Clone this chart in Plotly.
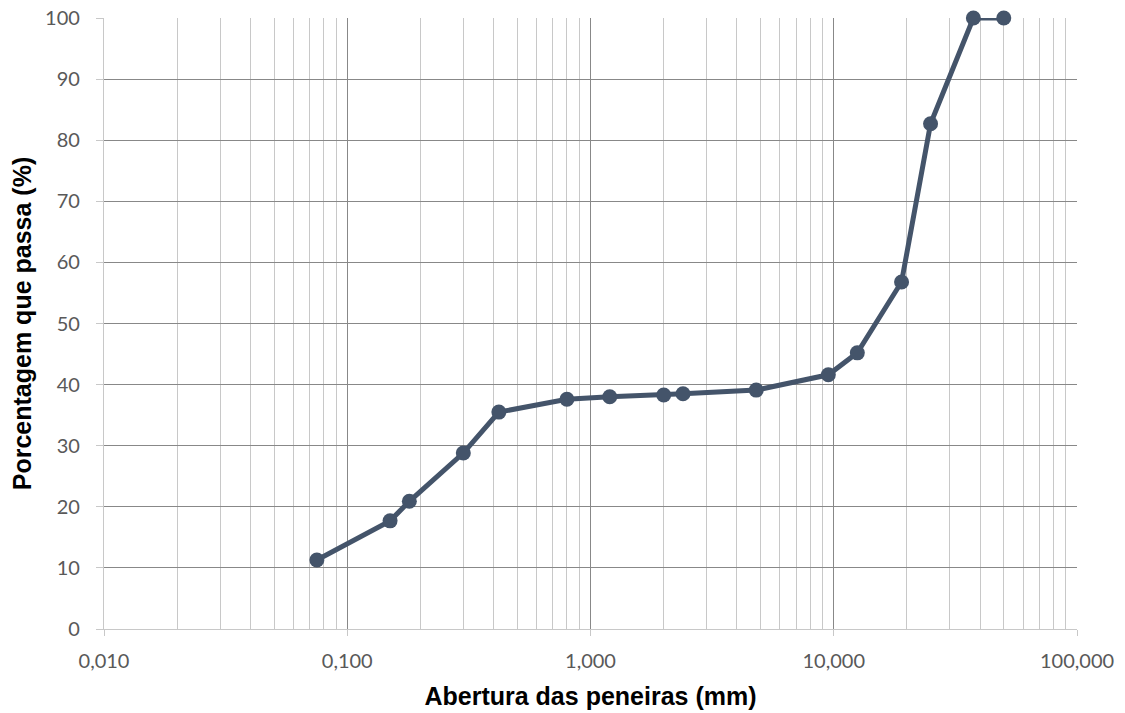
import plotly.graph_objects as go

# Sieve analysis: opening (mm) vs. cumulative percentage passing
abertura_mm = [0.075, 0.15, 0.18, 0.3, 0.42, 0.8, 1.2, 2.0, 2.4, 4.8, 9.5, 12.5, 19.0, 25.0, 37.5, 50.0]
passante_pct = [11.3, 17.7, 20.9, 28.8, 35.5, 37.6, 38.0, 38.3, 38.5, 39.1, 41.6, 45.2, 56.8, 82.7, 100.0, 100.0]

x_tickvals = [0.01, 0.1, 1, 10, 100]
x_ticktext = ["0,010", "0,100", "1,000", "10,000", "100,000"]
y_tickvals = list(range(0, 101, 10))

# Light gridlines at 2..9 within each decade of the log axis
x_minor_vals = [m * d for d in (0.01, 0.1, 1, 10) for m in range(2, 10)]

line_color = "#44546A"
major_grid = "#888888"
minor_grid = "#C8C8C8"
tick_font = dict(family="Lato, Liberation Sans, sans-serif", size=20, color="#595959")
title_font = dict(family="Liberation Sans, Arial, sans-serif", size=25, color="#000000")

fig = go.Figure(
    go.Scatter(
        x=abertura_mm,
        y=passante_pct,
        mode="lines+markers",
        line=dict(color=line_color, width=5),
        marker=dict(color=line_color, size=15),
        cliponaxis=False,
        showlegend=False,
    )
)

fig.update_xaxes(
    type="log",
    range=[-2, 2],
    tickvals=x_tickvals,
    ticktext=x_ticktext,
    tickfont=tick_font,
    ticklabelstandoff=8,
    showgrid=True,
    gridcolor=major_grid,
    gridwidth=1.3,
    ticks="outside",
    ticklen=6,
    tickcolor=minor_grid,
    showline=True,
    linecolor=minor_grid,
    linewidth=1.3,
    minor=dict(tickmode="array", tickvals=x_minor_vals, showgrid=True,
               gridcolor=minor_grid, gridwidth=1.3, ticks=""),
    zeroline=False,
    automargin=False,
    title=dict(text="<b>Abertura das peneiras (mm)</b>", font=title_font, standoff=16),
)

fig.update_yaxes(
    range=[0, 100],
    tickvals=y_tickvals,
    tickfont=tick_font,
    ticklabelstandoff=12,
    showgrid=True,
    gridcolor=major_grid,
    gridwidth=1.3,
    ticks="outside",
    ticklen=7,
    tickcolor=minor_grid,
    showline=True,
    linecolor=minor_grid,
    linewidth=1.3,
    zeroline=False,
    automargin=False,
    title=dict(text="<b>Porcentagem que passa (%)</b>", font=title_font, standoff=6),
)

fig.update_layout(
    width=1125,
    height=713,
    margin=dict(l=104, r=48, t=18, b=84),
    paper_bgcolor="white",
    plot_bgcolor="white",
)

fig.write_html("out.html")
